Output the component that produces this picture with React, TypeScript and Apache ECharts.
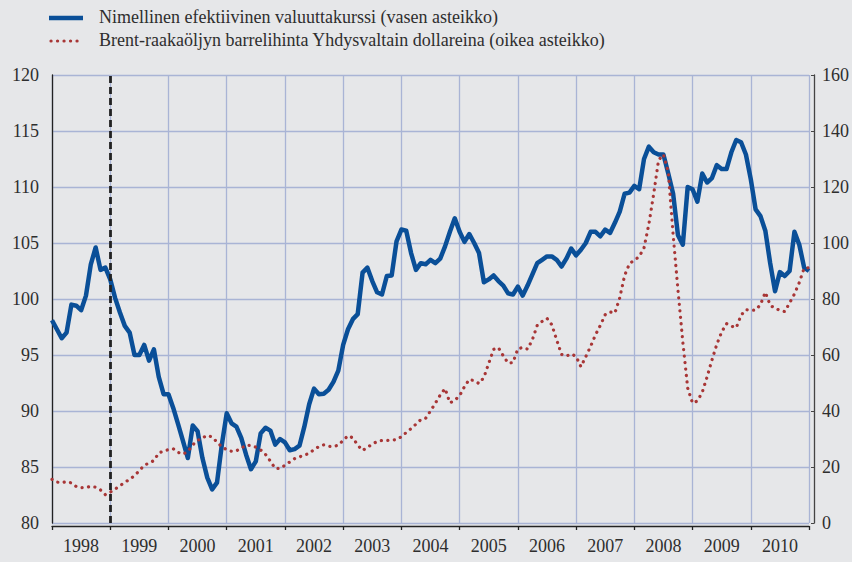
import React, { useEffect, useRef } from "react";
import * as echarts from "echarts";

const years = ["1998","1999","2000","2001","2002","2003","2004","2005","2006","2007","2008","2009","2010"];
const startYear = 1998;

// Monthly values, Jan 1998 ... Jan 2011
const exchangeRate = [
  98.1, 97.3, 96.5, 97.0, 99.5, 99.4, 99.0, 100.3, 103.1, 104.6, 102.6, 102.8,
  101.75, 100.1, 98.8, 97.6, 97.0, 95.0, 95.0, 95.9, 94.5, 95.5, 93.05, 91.5,
  91.5, 90.25, 88.8, 87.3, 85.8, 88.7, 88.2, 85.8, 84.05, 83.0, 83.6, 87.0,
  89.8, 88.9, 88.6, 87.6, 86.1, 84.8, 85.5, 88.0, 88.5, 88.25, 87.0, 87.5,
  87.2, 86.5, 86.6, 86.9, 88.6, 90.6, 92.0, 91.5, 91.55, 91.9, 92.6, 93.6,
  95.9, 97.3, 98.2, 98.65, 102.35, 102.8, 101.6, 100.6, 100.4, 102.05, 102.1, 105.15,
  106.2, 106.1, 104.1, 102.6, 103.2, 103.1, 103.5, 103.2, 103.6, 104.7, 106.0, 107.2,
  106.0, 105.1, 105.8, 105.0, 104.1, 101.5, 101.75, 102.1, 101.6, 101.2, 100.5, 100.4,
  101.1, 100.3, 101.2, 102.2, 103.2, 103.5, 103.8, 103.8, 103.5, 102.9, 103.6, 104.5,
  103.9, 104.4, 105.0, 106.0, 106.0, 105.6, 106.2, 105.9, 106.8, 107.8, 109.4, 109.5,
  110.1, 109.8, 112.5, 113.6, 113.1, 112.9, 112.9, 111.2, 109.4, 105.7, 104.85, 110.0,
  109.8, 108.7, 111.2, 110.4, 110.8, 111.95, 111.6, 111.6, 113.1, 114.2, 114.0, 112.9,
  110.7, 108.0, 107.4, 106.1, 103.2, 100.7, 102.4, 102.05, 102.5, 106.0, 104.85, 102.8,
  102.5,
];

const brentUsd = [
  15.6, 14.6, 14.4, 14.8, 14.3, 13.0, 12.6, 12.7, 13.1, 12.8, 11.8, 10.1,
  11.0, 12.1, 13.3, 14.5, 15.6, 16.9, 18.7, 20.6, 21.4, 22.3, 25.0, 25.7,
  26.2, 26.5, 25.2, 24.6, 25.5, 27.9, 29.5, 30.4, 31.3, 30.7, 28.9, 27.2,
  26.2, 25.6, 25.8, 26.7, 27.8, 27.7, 27.1, 26.1, 24.5, 22.1, 19.5, 19.5,
  20.6, 21.8, 23.0, 23.6, 24.3, 24.8, 26.2, 27.3, 27.9, 27.4, 27.3, 27.8,
  29.5, 31.2, 30.4, 27.8, 25.9, 27.0, 28.2, 29.1, 29.5, 29.5, 29.6, 29.8,
  30.8, 32.3, 33.7, 35.3, 36.9, 37.4, 40.0, 42.8, 45.7, 48.0, 42.9, 43.8,
  45.5, 48.7, 51.3, 50.8, 49.8, 52.0, 57.0, 62.0, 62.6, 59.7, 57.1, 57.3,
  62.2, 62.7, 62.1, 65.5, 70.6, 72.0, 73.1, 70.8, 65.4, 60.2, 59.6, 60.4,
  59.5, 55.8, 59.4, 63.1, 67.2, 70.6, 74.4, 75.4, 75.0, 80.4, 88.4, 92.6,
  93.9, 95.1, 98.3, 106.7, 117.6, 129.6, 131.6, 125.4, 102.9, 83.1, 64.6, 48.2,
  42.8, 43.6, 46.7, 52.2, 58.2, 63.8, 68.2, 71.2, 70.3, 69.7, 74.2, 76.2,
  76.0, 76.0, 78.0, 82.4, 77.8, 76.6, 76.0, 75.5, 78.6, 81.8, 85.9, 91.0,
  91.2,
];

const markerYear = 1999;
const seriesNames = [
  "Nimellinen efektiivinen valuuttakurssi (vasen asteikko)",
  "Brent-raakaöljyn barrelihinta Yhdysvaltain dollareina (oikea asteikko)",
];

const FONT = "'Liberation Serif', 'DejaVu Serif', serif";
const TEXT = "#2e2e2e";
const GRID = "#a9b4d5";
const BLUE = "#0a4f98";
const RED = "#a83636";
const RED_DASH = [0.1, 6.4];

export default function App() {
  const ref = useRef<HTMLDivElement>(null);
  useEffect(() => {
    if (!ref.current) return;
    const chart = echarts.init(ref.current, undefined, { renderer: "svg" });
    const toXY = (arr: number[]) => arr.map((v, i) => [startYear + i / 12, v]);
    chart.setOption({
      animation: false,
      backgroundColor: "#e6e7e9",
      textStyle: { fontFamily: FONT },
      graphic: [
        {
          type: "line",
          shape: { x1: 49, y1: 18, x2: 83, y2: 18 },
          style: { stroke: BLUE, lineWidth: 4.5 },
        },
        {
          type: "text",
          left: 99,
          top: 8,
          style: { text: seriesNames[0], fontFamily: FONT, fontSize: 18, fill: TEXT },
        },
        {
          type: "line",
          shape: { x1: 51, y1: 41, x2: 83, y2: 41 },
          style: { stroke: RED, lineWidth: 3.2, lineDash: RED_DASH, lineCap: "round" },
        },
        {
          type: "text",
          left: 99,
          top: 31,
          style: { text: seriesNames[1], fontFamily: FONT, fontSize: 18, fill: TEXT },
        },
      ],
      grid: { left: 52, right: 41, top: 75, bottom: 39 },
      xAxis: [
        { type: "value", min: 1998, max: 2011, interval: 1, show: false, position: "top" },
        {
          type: "category",
          data: years,
          position: "bottom",
          boundaryGap: true,
          offset: 3,
          axisLine: { lineStyle: { color: "#222", width: 1.3 } },
          axisTick: { show: true, length: 4, lineStyle: { color: "#222", width: 1.3 } },
          axisLabel: { fontFamily: FONT, fontSize: 18, color: TEXT, margin: 11 },
          splitLine: { show: true, lineStyle: { color: GRID, width: 1.3 } },
        },
      ],
      yAxis: [
        {
          type: "value",
          min: 80,
          max: 120,
          interval: 5,
          axisLine: { show: true, lineStyle: { color: "#222", width: 1.3 } },
          axisTick: { show: false },
          axisLabel: { fontFamily: FONT, fontSize: 18, color: TEXT, margin: 13 },
          splitLine: { show: true, lineStyle: { color: GRID, width: 1.3 } },
        },
        {
          type: "value",
          min: 0,
          max: 160,
          interval: 20,
          position: "right",
          offset: 5,
          axisLine: { show: true, lineStyle: { color: "#444", width: 1.3 } },
          axisTick: { show: true, inside: true, length: 3, lineStyle: { color: "#444" } },
          axisLabel: { fontFamily: FONT, fontSize: 18, color: TEXT, margin: 8 },
          splitLine: { show: false },
        },
      ],
      series: [
        {
          name: seriesNames[0],
          type: "line",
          xAxisIndex: 0,
          yAxisIndex: 0,
          data: toXY(exchangeRate),
          showSymbol: false,
          symbol: "none",
          color: BLUE,
          lineStyle: { color: BLUE, width: 4.5, join: "round" },
        },
        {
          name: seriesNames[1],
          type: "line",
          xAxisIndex: 0,
          yAxisIndex: 1,
          data: toXY(brentUsd),
          showSymbol: false,
          symbol: "none",
          color: RED,
          lineStyle: { color: RED, width: 3.2, type: RED_DASH, cap: "round" },
          markLine: {
            silent: true,
            symbol: "none",
            label: { show: false },
            lineStyle: { color: "#222", width: 2.8, type: [7, 4] },
            data: [{ xAxis: markerYear }],
          },
        },
      ],
    });
    return () => chart.dispose();
  }, []);
  return (
    <div
      ref={ref}
      style={{ position: "absolute", left: 0, top: 0, width: 852, height: 562 }}
    />
  );
}
